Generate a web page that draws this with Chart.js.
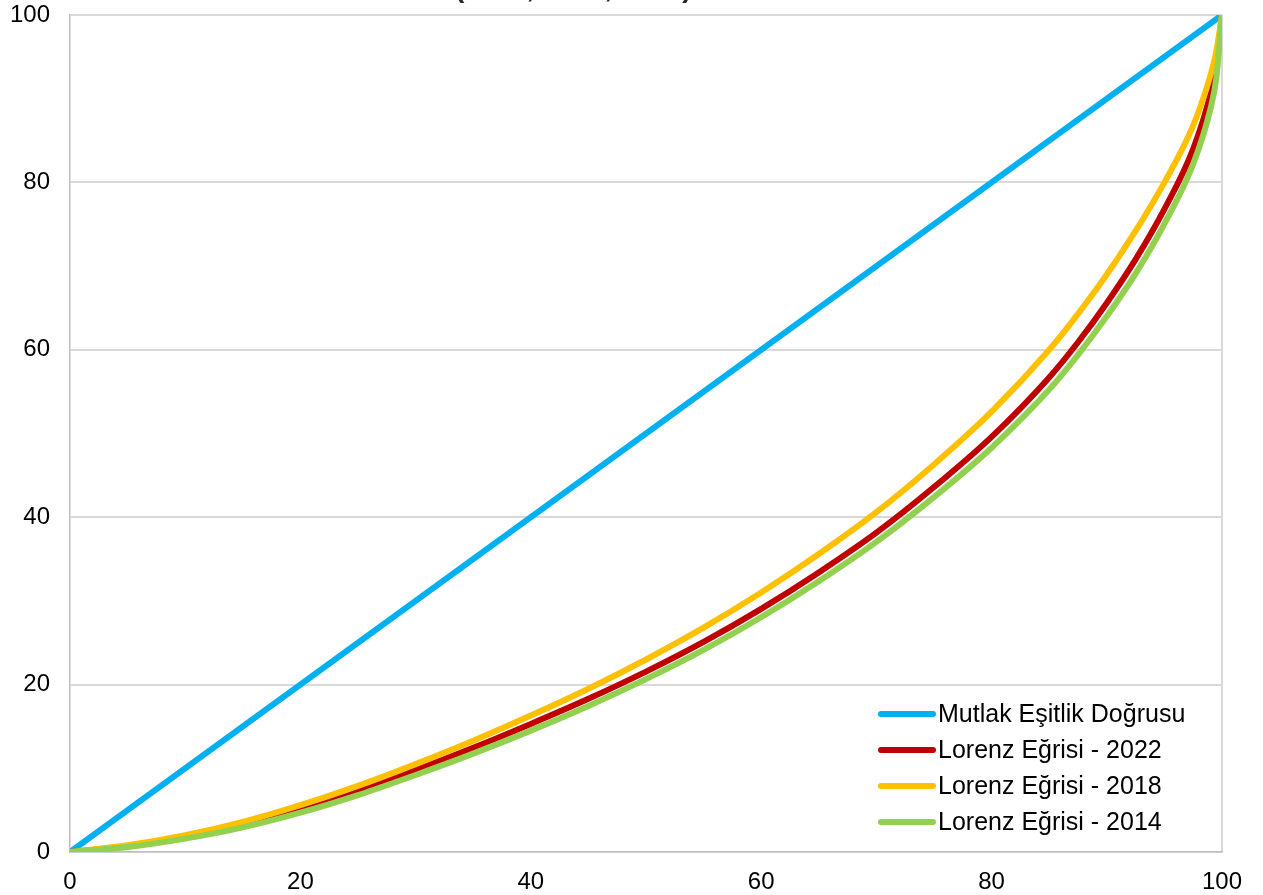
<!DOCTYPE html>
<html>
<head>
<meta charset="utf-8">
<script src="https://cdn.jsdelivr.net/npm/chart.js@4.4.1/dist/chart.umd.min.js"></script>
<style>
html,body{margin:0;padding:0;background:#fff;overflow:hidden;}
#wrap{width:1263px;height:895px;position:relative;}
</style>
</head>
<body>
<div id="wrap"><canvas id="c" width="1263" height="895"></canvas></div>
<script>
// Population share (%) – x positions of the points
const xVals = [0, 5, 10, 15, 20, 25, 30, 35, 40, 45, 50, 55, 60, 65, 70, 75, 80, 85, 87.5, 90, 92.5, 95, 97.5, 99, 99.5, 100];
// Cumulative income share (%)
const lorenz2022 = [0, 0.7, 1.8, 3.25, 5.1, 7.3, 9.8, 12.45, 15.3, 18.3, 21.55, 25.1, 29.05, 33.4, 38.15, 43.6, 49.6, 56.7, 60.9, 65.6, 70.8, 76.8, 84.0, 90.6, 94.0, 100];
const lorenz2018 = [0, 0.8, 2.0, 3.6, 5.6, 7.9, 10.5, 13.3, 16.3, 19.5, 23.0, 26.8, 31.0, 35.6, 40.6, 46.3, 52.6, 60.0, 64.3, 69.0, 74.2, 80.0, 86.8, 92.8, 95.6, 100];
const lorenz2014 = [0, 0.6, 1.6, 2.95, 4.7, 6.8, 9.2, 11.75, 14.5, 17.45, 20.65, 24.15, 28.05, 32.35, 37.05, 42.4, 48.3, 55.25, 59.4, 64.0, 69.1, 75.05, 82.2, 88.8, 92.4, 100];
const equalityX = [0, 100];
const equalityY = [0, 100];
const seriesLabels = ["Mutlak Eşitlik Doğrusu", "Lorenz Eğrisi - 2022", "Lorenz Eğrisi - 2018", "Lorenz Eğrisi - 2014"];
const seriesColors = ["#00B0F0", "#C00000", "#FFC000", "#92D050"];
const titleText = "(2014, 2018, 2022)";
const yTicks = [0, 20, 40, 60, 80, 100];
const xTicks = [0, 20, 40, 60, 80, 100];

const FONT = "'Liberation Sans', Arial, sans-serif";
const pts = (xs, ys) => xs.map((x, i) => ({x: x, y: ys[i]}));

const legendPlugin = {
  id: 'insideLegend',
  afterDraw(chart) {
    const ctx = chart.ctx, a = chart.chartArea;
    const x0 = a.right - 344, rowH = 36;
    const yStart = a.bottom - 138;
    ctx.save();
    ctx.font = "25px " + FONT;
    ctx.textBaseline = 'middle';
    ctx.textAlign = 'left';
    seriesLabels.forEach((lab, i) => {
      const y = yStart + i * rowH;
      ctx.strokeStyle = seriesColors[i];
      ctx.lineWidth = 6;
      ctx.lineCap = 'round';
      ctx.beginPath();
      ctx.moveTo(x0 + 3, y);
      ctx.lineTo(x0 + 55, y);
      ctx.stroke();
      ctx.fillStyle = '#000';
      ctx.fillText(lab, x0 + 60, y + 1);
    });
    ctx.restore();
  }
};

const titlePlugin = {
  id: 'clippedTitle',
  afterDraw(chart) {
    const ctx = chart.ctx;
    ctx.save();
    ctx.font = "bold 28px " + FONT;
    ctx.fillStyle = '#262626';
    ctx.textBaseline = 'alphabetic';
    ctx.textAlign = 'left';
    ctx.fillText(titleText, 455, -3);
    ctx.restore();
  }
};

new Chart(document.getElementById('c'), {
  type: 'line',
  data: {
    datasets: [
      {label: seriesLabels[0], data: pts(equalityX, equalityY), borderColor: seriesColors[0], borderWidth: 6, order: 3},
      {label: seriesLabels[1], data: pts(xVals, lorenz2022), borderColor: seriesColors[1], borderWidth: 6, order: 2},
      {label: seriesLabels[2], data: pts(xVals, lorenz2018), borderColor: seriesColors[2], borderWidth: 6, order: 1},
      {label: seriesLabels[3], data: pts(xVals, lorenz2014), borderColor: seriesColors[3], borderWidth: 6, order: 0}
    ]
  },
  options: {
    responsive: false,
    animation: false,
    devicePixelRatio: 1,
    layout: {padding: {left: 0, right: 41, top: 15, bottom: 0}},
    elements: {
      point: {radius: 0, hoverRadius: 0},
      line: {cubicInterpolationMode: 'monotone', borderCapStyle: 'round', borderJoinStyle: 'round', fill: false}
    },
    plugins: {
      legend: {display: false},
      title: {display: false},
      tooltip: {enabled: false}
    },
    scales: {
      x: {
        type: 'linear', min: 0, max: 100,
        afterBuildTicks: s => { s.ticks = xTicks.map(v => ({value: v})); },
        afterFit: s => { s.height = 43; s.paddingLeft = 0; s.paddingRight = 0; },
        ticks: {color: '#000', font: {family: FONT, size: 24}, padding: 16, maxRotation: 0},
        grid: {
          drawTicks: false,
          lineWidth: 2,
          color: c => (c.tick && c.tick.value === 100) ? '#D9D9D9' : 'rgba(0,0,0,0)'
        },
        border: {color: '#BFBFBF', width: 1.5}
      },
      y: {
        type: 'linear', min: 0, max: 100,
        afterBuildTicks: s => { s.ticks = yTicks.map(v => ({value: v})); },
        afterFit: s => { s.width = 70; s.paddingTop = 0; s.paddingBottom = 0; },
        ticks: {color: '#000', font: {family: FONT, size: 24}, padding: 20},
        grid: {drawTicks: false, color: '#D9D9D9', lineWidth: 2},
        border: {color: '#BFBFBF', width: 1.5}
      }
    }
  },
  plugins: [legendPlugin, titlePlugin]
});
</script>
</body>
</html>
